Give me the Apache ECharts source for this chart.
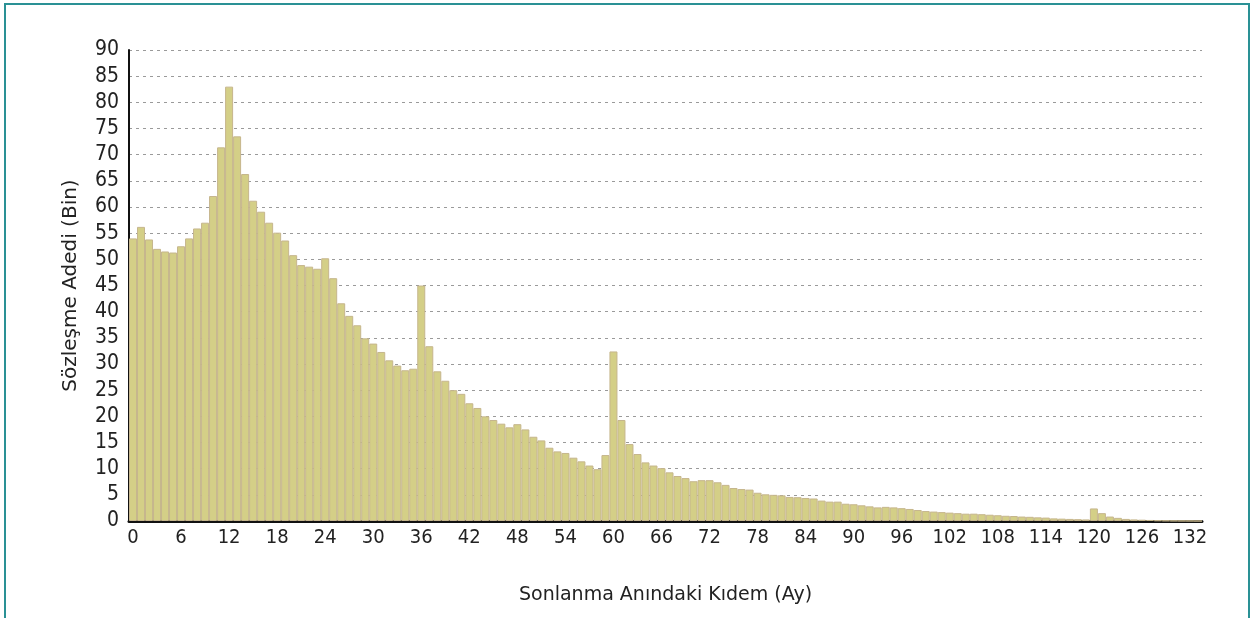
<!DOCTYPE html>
<html>
<head>
<meta charset="utf-8">
<script src="https://cdn.jsdelivr.net/npm/echarts@6/dist/echarts.min.js"></script>
<style>
    html, body { margin: 0; padding: 0; background: #ffffff; }
    #wrap { position: relative; width: 1252px; height: 618px; overflow: hidden; }
    #frame { position: absolute; left: 4px; top: 3px; width: 1242px; height: 640px; border: 2px solid #2a9195; pointer-events: none; }
    #chart { position: absolute; left: 0; top: 0; width: 1252px; height: 618px; }
</style>
</head>
<body>
<div id="wrap">
    <div id="chart"></div>
    <div id="frame"></div>
</div>
<script>
    // kidem (ay) kategorileri
    var months = [
        '0', '1', '2', '3', '4', '5', '6', '7', '8', '9', '10', '11', '12', '13', '14', '15', '16', '17', '18', '19',
        '20', '21', '22', '23', '24', '25', '26', '27', '28', '29', '30', '31', '32', '33', '34', '35', '36', '37', '38', '39',
        '40', '41', '42', '43', '44', '45', '46', '47', '48', '49', '50', '51', '52', '53', '54', '55', '56', '57', '58', '59',
        '60', '61', '62', '63', '64', '65', '66', '67', '68', '69', '70', '71', '72', '73', '74', '75', '76', '77', '78', '79',
        '80', '81', '82', '83', '84', '85', '86', '87', '88', '89', '90', '91', '92', '93', '94', '95', '96', '97', '98', '99',
        '100', '101', '102', '103', '104', '105', '106', '107', '108', '109', '110', '111', '112', '113', '114', '115', '116', '117', '118', '119',
        '120', '121', '122', '123', '124', '125', '126', '127', '128', '129', '130', '131', '132', '133'
    ];

    // sozlesme adedi (bin)
    var contracts = [
        54.0, 56.2, 53.8, 52.0, 51.5, 51.3, 52.5, 54.0, 55.9, 57.0,
        62.1, 71.4, 83.0, 73.5, 66.3, 61.2, 59.1, 57.0, 55.1, 53.6,
        50.8, 48.9, 48.6, 48.2, 50.2, 46.4, 41.6, 39.2, 37.4, 34.9,
        33.9, 32.3, 30.7, 29.7, 28.8, 29.1, 45.0, 33.4, 28.6, 26.8,
        25.0, 24.3, 22.5, 21.6, 20.0, 19.3, 18.6, 17.9, 18.5, 17.5,
        16.1, 15.4, 14.0, 13.3, 13.0, 12.1, 11.4, 10.6, 9.9, 12.6,
        32.4, 19.3, 14.7, 12.8, 11.2, 10.6, 10.1, 9.3, 8.6, 8.2,
        7.6, 7.8, 7.8, 7.4, 6.9, 6.3, 6.1, 6.0, 5.4, 5.1,
        5.0, 4.9, 4.6, 4.55, 4.4, 4.3, 3.9, 3.7, 3.7, 3.3,
        3.2, 3.0, 2.8, 2.6, 2.7, 2.6, 2.45, 2.3, 2.1, 1.9,
        1.8, 1.7, 1.6, 1.5, 1.4, 1.4, 1.3, 1.2, 1.1, 1.0,
        0.95, 0.85, 0.8, 0.7, 0.65, 0.5, 0.45, 0.4, 0.35, 0.3,
        2.4, 1.5, 0.85, 0.6, 0.4, 0.3, 0.25, 0.2, 0.12, 0.08,
        0.05, 0.03, 0.02, 0
    ];

    var tickFont = "'DejaVu Sans Condensed', 'DejaVu Sans', sans-serif";
    var nameFont = "'DejaVu Sans', sans-serif";

    var chart = echarts.init(document.getElementById('chart'));

    var option = {
        animation: false,
        grid: { left: 129, right: 50, top: 50, bottom: 97 },
        xAxis: {
            type: 'category',
            data: months,
            name: 'Sonlanma Anındaki Kıdem (Ay)',
            nameLocation: 'middle',
            nameGap: 65,
            nameTextStyle: { fontFamily: nameFont, fontSize: 19, color: '#222' },
            axisLine: { lineStyle: { color: '#111', width: 3 } },
            axisTick: { show: false },
            axisLabel: { interval: 5, margin: 7, fontFamily: tickFont, fontSize: 20, color: '#222' },
            splitLine: { show: false }
        },
        yAxis: {
            type: 'value',
            min: 0,
            max: 90,
            interval: 5,
            name: 'Sözleşme Adedi (Bin)',
            nameLocation: 'middle',
            nameGap: 48,
            nameTextStyle: { fontFamily: nameFont, fontSize: 20, color: '#222' },
            axisLine: { show: true, lineStyle: { color: '#111', width: 2 } },
            axisTick: { show: false },
            axisLabel: { margin: 10, fontFamily: tickFont, fontSize: 21, color: '#222' },
            splitLine: { lineStyle: { color: '#9a9a9a', width: 1, type: [3, 4] } }
        },
        series: [{
            type: 'bar',
            data: contracts,
            barCategoryGap: '0%',
            itemStyle: { color: '#d4cf87', borderColor: '#c6b68d', borderWidth: 1 }
        }]
    };

    chart.setOption(option);
</script>
</body>
</html>
